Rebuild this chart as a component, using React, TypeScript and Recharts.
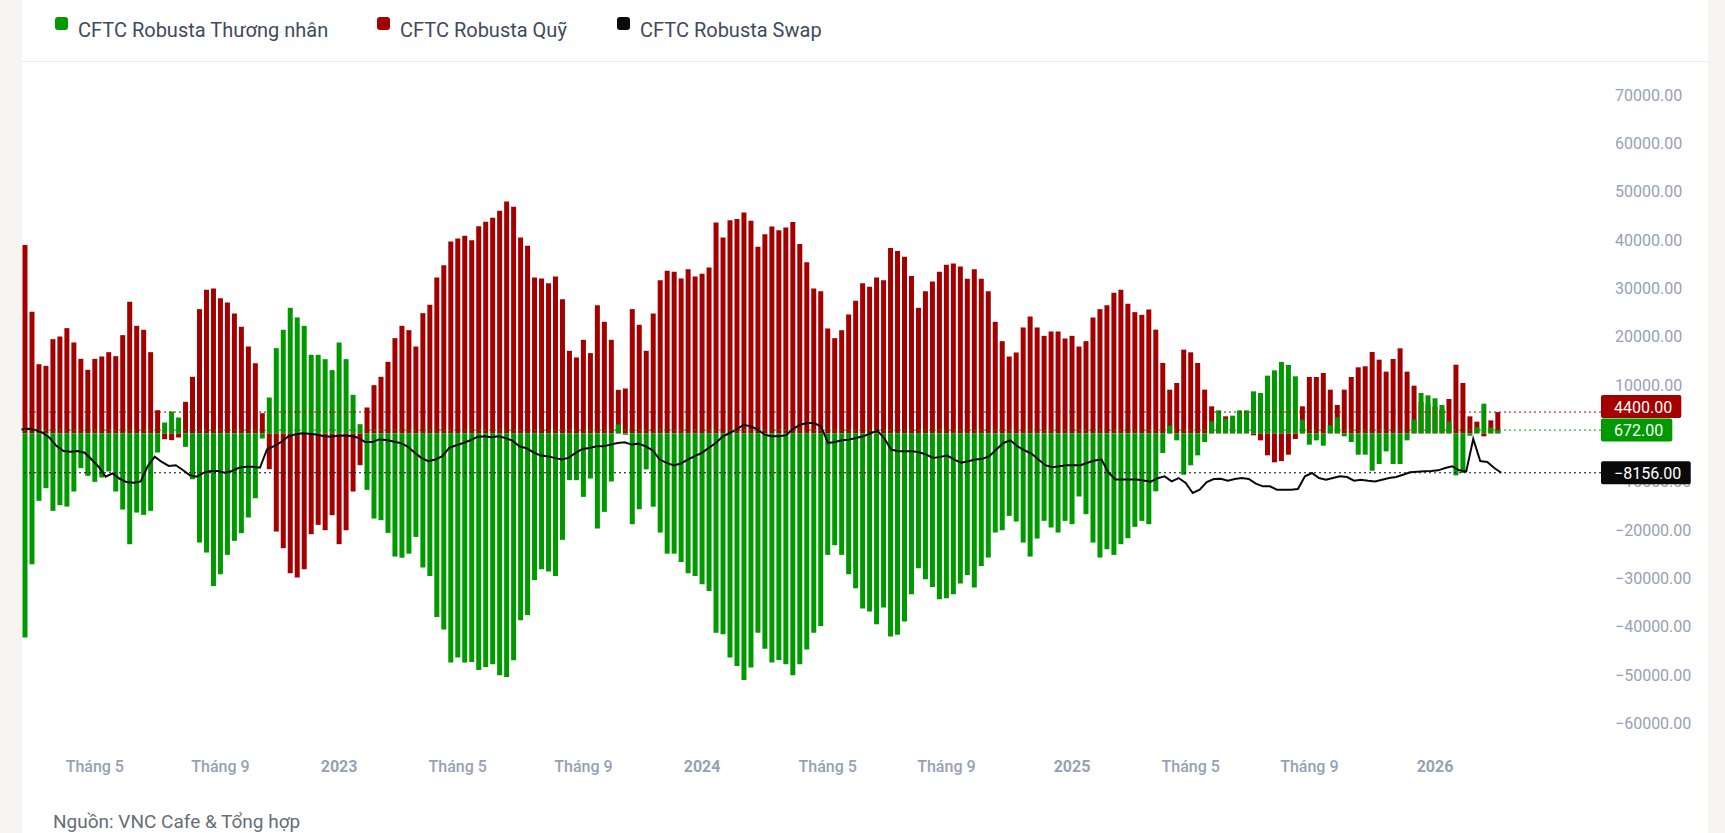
import React from 'react'
import { ComposedChart, Bar, Line, XAxis, YAxis, ReferenceLine } from 'recharts'

// vi thế ròng CFTC Robusta theo tuần, bắt đầu từ 22/02/2022
const startDate = Date.UTC(2022, 1, 22)

const thuongNhan = [
    -42260, -27080, -13970, -11350, -16040, -14870, -15150, -12040, -7210, -8800,
    -10040, -9140, -7900, -12040, -15770, -22940, -16390, -16870, -16040, -3970,
    2240, 4520, 3280, -2800, -9500, -22600, -24670, -31570, -29150, -25150,
    -22250, -20660, -17420, -13420, -1070, 7420, 17630, 21430, 25980, 23980,
    22250, 16250, 16250, 15350, 13080, 18800, 15350, 7970, 1900, -11700,
    -17630, -17970, -20600, -25500, -25740, -24900, -21430, -27770, -29500, -37990,
    -40600, -47440, -46400, -47440, -47300, -48950, -48330, -47780, -50060, -50410,
    -46960, -38680, -37580, -30330, -28120, -28600, -29500, -22040, -9690, -9690,
    -13140, -9350, -19700, -16250, -9970, 1860, -300, -18800, -15700, -7450,
    -15180, -20530, -24900, -24900, -26600, -28950, -29500, -31220, -32600, -41250,
    -41600, -46400, -48120, -51020, -48470, -41250, -44570, -47440, -46890, -47780,
    -50060, -47780, -44710, -41250, -39870, -25150, -23150, -25150, -29150, -32050,
    -36260, -36880, -39500, -36050, -42050, -41700, -38950, -33290, -27910, -30190,
    -31780, -34330, -34120, -33290, -31080, -29290, -31910, -27430, -25700, -20530,
    -20050, -17080, -18250, -22600, -25500, -21770, -18110, -19490, -20530, -18110,
    -18800, -13070, -16730, -22600, -25700, -23980, -25150, -22940, -21700, -19350,
    -18110, -18800, -12000, -4070, 1590, -1450, -8560, -6620, -4550, -1790,
    2480, 4760, 3040, 3660, 4760, 4760, 8690, 8350, 11940, 13040,
    14770, 14150, 11800, 2830, -2350, -1450, -2550, 1660, 3310, -620,
    -1790, -4420, -4420, -7730, -6350, -3730, -6350, -6350, -1450, 2830,
    8350, 7870, 7250, 5870, 2420, -8700, -8210, -500, 1240, 6140,
    1240, 672,
]

const quy = [
    38950, 25150, 14300, 13970, 19490, 20040, 21770, 18800, 15420, 13150,
    15420, 15900, 16800, 15970, 20320, 27220, 22250, 21430, 16800, 4790,
    -1210, -1410, -860, 6520, 11700, 25700, 29700, 29980, 27980, 27080,
    24800, 22050, 17970, 14520, 4170, -7420, -20320, -23770, -28950, -29840,
    -28120, -20870, -18940, -20050, -16940, -22940, -20050, -12040, -6590, 5350,
    9970, 11700, 14800, 19700, 22250, 21350, 17970, 24870, 26600, 32260,
    34810, 39710, 40330, 40880, 39980, 42880, 43780, 44610, 46060, 47990,
    46890, 40540, 38810, 32260, 32050, 31080, 32470, 27770, 17080, 15700,
    19350, 16600, 26530, 23080, 19350, 9000, 9280, 25700, 22460, 17080,
    24800, 31700, 33640, 33430, 32050, 33980, 32470, 33050, 34300, 43640,
    40540, 44120, 44330, 45710, 43990, 38600, 41220, 42810, 42050, 42600,
    43710, 39160, 35430, 29980, 29420, 21700, 19700, 21350, 24600, 27430,
    31080, 30330, 32260, 31700, 38330, 37710, 36540, 32540, 25980, 29420,
    31430, 33430, 34880, 35150, 34530, 31980, 33980, 31980, 29420, 23080,
    19080, 15900, 16730, 21910, 24180, 21910, 20180, 21080, 21080, 19630,
    20180, 17970, 19080, 23980, 25700, 26530, 29080, 29700, 26810, 25080,
    24530, 25630, 21460, 14560, 9040, 10420, 17320, 16770, 14560, 9040,
    5590, 2000, 3520, 1500, 500, 200, -410, -1450, -4550, -6000,
    -5730, -4420, -1170, 5590, 11660, 11660, 12490, 9040, 5870, 9040,
    11660, 13660, 13870, 16840, 15250, 12770, 15390, 17600, 12770, 9870,
    6500, 6000, 5500, 5000, 7110, 14210, 10420, 3520, 2420, -620,
    2690, 4400,
]

const swap = [
    810, 950, 680, 120, -910, -2640, -3670, -3810, -3670, -4020,
    -5400, -6910, -8980, -8290, -9400, -10090, -10230, -9950, -6780, -4820,
    -5920, -6750, -6610, -7580, -8680, -8960, -8130, -7790, -7790, -8130,
    -7790, -7120, -6910, -6910, -7120, -3330, -2630, -1810, -700, -220,
    0, -80, -220, -570, -700, -570, -430, -570, -910, -1810,
    -1810, -1260, -1400, -1700, -1990, -2680, -3910, -5080, -5760, -5420,
    -4730, -3020, -2470, -1990, -1440, -750, -620, -820, -620, -960,
    -1510, -2680, -3090, -3910, -4600, -4730, -5080, -5420, -5080, -4050,
    -3220, -3020, -2680, -2680, -2330, -1990, -1850, -2330, -2130, -2680,
    -3500, -5420, -6100, -6650, -6240, -5420, -4730, -4050, -3020, -1990,
    -620, 70, 890, 1780, 1440, 750, -300, -620, -620, -410,
    890, 1780, 2130, 2130, 1440, -1990, -1780, -1440, -1300, -960,
    -620, -70, 620, -960, -3360, -3700, -3700, -3700, -3910, -4390,
    -5080, -4870, -4600, -5420, -6100, -5760, -5420, -5280, -4730, -3360,
    -1990, -1440, -2680, -3500, -4180, -5420, -6590, -7000, -6790, -6590,
    -6590, -6590, -6100, -5630, -5420, -8160, -9540, -9540, -9540, -9540,
    -9740, -10000, -9300, -8900, -9940, -9250, -10280, -12350, -11660, -10070,
    -9450, -9380, -9800, -9450, -9250, -9450, -10420, -10970, -10970, -11660,
    -11660, -11660, -11520, -8900, -8210, -9250, -9590, -9250, -8900, -9040,
    -9800, -9590, -9800, -9940, -9590, -9250, -9040, -8560, -8070, -7940,
    -7870, -7800, -7660, -7180, -6830, -7660, -7870, -1170, -5730, -5930,
    -7180, -8156,
]

const yTicks = [70000, 60000, 50000, 40000, 30000, 20000, 10000, 0, -10000, -20000, -30000, -40000, -50000, -60000]

// giá trị cuối của từng chuỗi (nhãn bên phải)
const lastValues = [
    { value: 4400, color: '#a50000', shiftY: -5.5 },
    { value: 672, color: '#009900', shiftY: 0 },
    { value: -8156, color: '#0a0a0a', shiftY: 0 },
]

const GREEN = '#009900'
const RED = '#a50000'
const BLACK = '#0a0a0a'
const AXIS_TEXT = '#95a1b5'
const FONT = 'Roboto, "Noto Sans", sans-serif'
const Y_DOMAIN = [-64700, 76430]
const MARGIN = { top: 64, right: 24, bottom: 24, left: 21.5 }

const weeks = thuongNhan.map((_, i) =>
    new Date(startDate + i * 7 * 86400000).toISOString().slice(0, 10)
)

const data = weeks.map((date, i) => ({
    date,
    thuongNhan: thuongNhan[i],
    quy: quy[i],
    swap: swap[i],
}))

// nhãn trục thời gian: tuần đầu của tháng 1, 5, 9
const timeTicks = weeks.filter((d, i) => {
    if (i === 0) return false
    const m = +d.slice(5, 7)
    const prev = +weeks[i - 1].slice(5, 7)
    return m !== prev && (m === 1 || m === 5 || m === 9)
})

const fmt = (v: number) => v.toFixed(2).replace('-', '−')

const TimeTick = (props: any) => {
    const { x, y, payload } = props
    const d: string = payload.value
    const m = +d.slice(5, 7)
    const isYear = m === 1
    return (
        <text
            x={x}
            y={y + 26}
            textAnchor="middle"
            fill={AXIS_TEXT}
            fontSize={16}
            fontWeight={isYear ? 700 : 500}
            fontFamily={FONT}
        >
            {isYear ? d.slice(0, 4) : `Tháng ${m}`}
        </text>
    )
}

const textWidth = (s: string) =>
    s.split('').reduce((w, c) => w + (c === '.' ? 4.3 : c === '−' ? 9.4 : 9), 0)

const PriceLabel = (props: any) => {
    const { viewBox, amount, tone, shiftY = 0 } = props
    if (!viewBox) return null
    const s = fmt(amount)
    const x = viewBox.x + viewBox.width
    const cy = viewBox.y + shiftY
    const w = 13 + textWidth(s) + 9
    return (
        <g>
            <rect x={x} y={cy - 11.5} width={w} height={23} rx={2} fill={tone} />
            <text x={x + 13} y={cy + 6} fill="#ffffff" fontSize={16} fontFamily={FONT}>
                {s}
            </text>
        </g>
    )
}

const legendItems = [
    { name: 'CFTC Robusta Thương nhân', color: GREEN, left: 55 },
    { name: 'CFTC Robusta Quỹ', color: RED, left: 377 },
    { name: 'CFTC Robusta Swap', color: BLACK, left: 617 },
]

export default function App() {
    return (
        <div
            style={{
                position: 'absolute',
                left: 0,
                top: 0,
                width: 1725,
                height: 833,
                background: '#f6f5f2',
                overflow: 'hidden',
                fontFamily: FONT,
            }}
        >
            <div
                style={{
                    position: 'absolute',
                    left: 22,
                    top: 0,
                    width: 1686,
                    height: 833,
                    background: '#ffffff',
                }}
            />
            <div
                style={{
                    position: 'absolute',
                    left: 22,
                    top: 61,
                    width: 1686,
                    height: 1,
                    background: '#ececec',
                }}
            />

            {legendItems.map((item) => (
                <div key={item.name}>
                    <div
                        style={{
                            position: 'absolute',
                            left: item.left,
                            top: 17,
                            width: 13,
                            height: 13,
                            borderRadius: 3,
                            background: item.color,
                        }}
                    />
                    <div
                        style={{
                            position: 'absolute',
                            left: item.left + 23,
                            top: 18,
                            fontSize: 20,
                            lineHeight: '24px',
                            color: '#404a5c',
                            whiteSpace: 'nowrap',
                        }}
                    >
                        {item.name}
                    </div>
                </div>
            ))}

            {/* cột Thương nhân / Quỹ + trục */}
            <div style={{ position: 'absolute', left: 0, top: 0 }}>
                <ComposedChart width={1725} height={800} data={data} margin={MARGIN} barGap={-5}>
                    <XAxis
                        dataKey="date"
                        ticks={timeTicks}
                        interval={0}
                        tick={<TimeTick />}
                        tickLine={false}
                        axisLine={false}
                        tickSize={0}
                        tickMargin={0}
                        height={30}
                        padding={{ left: 0, right: 99.7 }}
                    />
                    <YAxis
                        orientation="right"
                        width={100}
                        domain={Y_DOMAIN}
                        ticks={yTicks}
                        interval={0}
                        tickFormatter={fmt}
                        tick={{ fill: AXIS_TEXT, fontSize: 16, fontFamily: FONT }}
                        tickLine={false}
                        axisLine={false}
                        tickSize={0}
                        tickMargin={14}
                    />
                    <Bar dataKey="quy" fill={RED} barSize={5} isAnimationActive={false} />
                    <Bar dataKey="thuongNhan" fill={GREEN} barSize={5} isAnimationActive={false} />
                </ComposedChart>
            </div>

            {/* lớp trên: đường Swap + đường giá cuối và nhãn, đè lên nhãn trục */}
            <div style={{ position: 'absolute', left: 0, top: 0, pointerEvents: 'none' }}>
                <ComposedChart width={1725} height={800} data={data} margin={MARGIN}>
                    <XAxis
                        dataKey="date"
                        tick={false}
                        tickLine={false}
                        axisLine={false}
                        height={30}
                        padding={{ left: 0, right: 99.7 }}
                    />
                    <YAxis
                        orientation="right"
                        width={100}
                        domain={Y_DOMAIN}
                        tick={false}
                        tickLine={false}
                        axisLine={false}
                    />
                    <Line
                        dataKey="swap"
                        type="linear"
                        stroke={BLACK}
                        strokeWidth={2}
                        dot={false}
                        activeDot={false}
                        isAnimationActive={false}
                    />
                    {lastValues.map((lv) => (
                        <ReferenceLine
                            key={lv.value}
                            y={lv.value}
                            stroke={lv.color}
                            strokeDasharray="2 3"
                            label={<PriceLabel amount={lv.value} tone={lv.color} shiftY={lv.shiftY} />}
                        />
                    ))}
                </ComposedChart>
            </div>

            <div
                style={{
                    position: 'absolute',
                    left: 53,
                    top: 811,
                    fontSize: 19,
                    lineHeight: '22px',
                    color: '#676d76',
                    whiteSpace: 'nowrap',
                }}
            >
                Nguồn: VNC Cafe &amp; Tổng hợp
            </div>
        </div>
    )
}
